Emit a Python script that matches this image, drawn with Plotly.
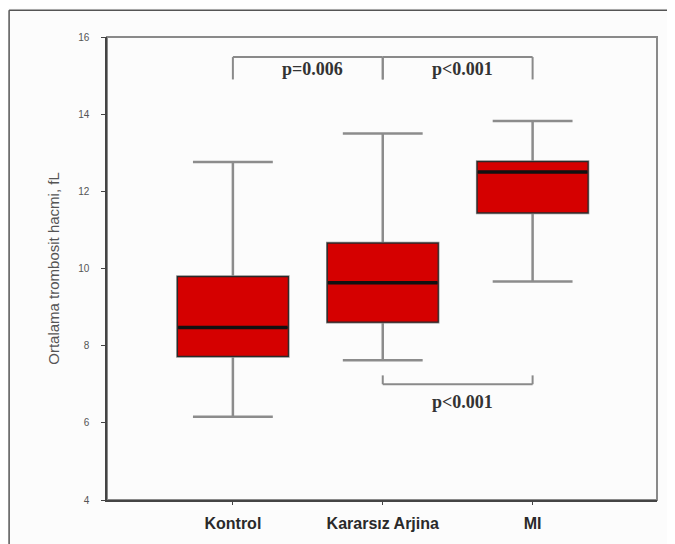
import plotly.graph_objects as go

categories = ["Kontrol", "Kararsız Arjina", "MI"]
lower_whisker = [6.16, 7.62, 9.66]
q1 = [7.72, 8.61, 11.44]
median = [8.47, 9.63, 12.50]
q3 = [9.79, 10.66, 12.77]
upper_whisker = [12.76, 13.50, 13.82]
y_ticks = [4, 6, 8, 10, 12, 14, 16]

# significance brackets: (from category index, to category index, label)
top_pairs = [(0, 1, "p=0.006"), (1, 2, "p<0.001")]
bottom_pairs = [(1, 2, "p<0.001")]

RED = "#d50000"
fig = go.Figure()

fig.add_trace(go.Box(
    x=categories, q1=q1, median=median, q3=q3,
    lowerfence=lower_whisker, upperfence=upper_whisker,
    fillcolor=RED, line=dict(color="#8c8c8c", width=2.5),
    width=0.74, whiskerwidth=0.72, boxpoints=False, hoverinfo="skip",
    showlegend=False))
fig.add_trace(go.Box(
    x=categories, q1=q1, median=median, q3=q3,
    lowerfence=q1, upperfence=q3,
    fillcolor=RED, line=dict(color="#2a2a2a", width=1.2),
    width=0.74, whiskerwidth=0, boxpoints=False, hoverinfo="skip",
    showlegend=False))

shapes = []
for i, m in enumerate(median):
    shapes.append(dict(type="line", xref="x", yref="y", x0=i - 0.365, x1=i + 0.365,
                       y0=m, y1=m, line=dict(color="#111111", width=3.5)))

GRAY = "#8a8a8a"
top_y, top_drop = 15.48, 14.9
bot_y, bot_rise = 7.0, 7.23
PFONT = dict(family="Liberation Serif", size=18, color="#333333")
ann = []
for a, b, lab in top_pairs:
    shapes.append(dict(type="line", xref="x", yref="y", x0=a, x1=b, y0=top_y, y1=top_y,
                       line=dict(color=GRAY, width=2)))
    for xx in (a, b):
        shapes.append(dict(type="line", xref="x", yref="y", x0=xx, x1=xx, y0=top_y, y1=top_drop,
                           line=dict(color=GRAY, width=2)))
    ann.append(dict(x=(a + b) / 2 + 0.03, y=15.16, xref="x", yref="y", text="<b>" + lab + "</b>",
                    showarrow=False, font=PFONT))
for a, b, lab in bottom_pairs:
    shapes.append(dict(type="line", xref="x", yref="y", x0=a, x1=b, y0=bot_y, y1=bot_y,
                       line=dict(color=GRAY, width=2)))
    for xx in (a, b):
        shapes.append(dict(type="line", xref="x", yref="y", x0=xx, x1=xx, y0=bot_y, y1=bot_rise,
                           line=dict(color=GRAY, width=2)))
    ann.append(dict(x=(a + b) / 2 + 0.03, y=6.55, xref="x", yref="y", text="<b>" + lab + "</b>",
                    showarrow=False, font=PFONT))

# plot frame (top/right) and outer frame (top/left)
shapes.append(dict(type="rect", xref="paper", yref="paper", x0=0, x1=1, y0=0, y1=1,
                   line=dict(color="#8a8a8a", width=2), layer="below"))
shapes.append(dict(type="line", xref="paper", yref="paper", x0=-0.178, x1=1.05, y0=1.058, y1=1.058,
                   line=dict(color="#555555", width=1.5)))
shapes.append(dict(type="line", xref="paper", yref="paper", x0=-0.178, x1=-0.178, y0=1.058, y1=-0.2,
                   line=dict(color="#555555", width=1.5)))

fig.update_layout(
    width=667, height=536,
    margin=dict(l=99, r=18, t=29, b=38),
    paper_bgcolor="#fcfcfc", plot_bgcolor="#fcfcfc",
    boxmode="overlay",
    shapes=shapes, annotations=ann,
    font=dict(family="Liberation Sans"),
)
fig.update_xaxes(
    type="category", range=[-0.84, 2.83],
    showgrid=False, zeroline=False,
    showline=True, linecolor="#444444", linewidth=1.5,
    ticks="outside", ticklen=3, tickcolor="#444444",
    ticklabelstandoff=5,
    tickfont=dict(family="Liberation Sans", size=16, color="#2a2a2a"),
    tickprefix="<b>", ticksuffix="</b>",
)
fig.update_yaxes(
    range=[4, 16], tickvals=y_ticks,
    showgrid=False, zeroline=False,
    showline=True, linecolor="#444444", linewidth=1.5,
    ticks="outside", ticklen=4, tickcolor="#444444",
    ticklabelstandoff=10,
    tickfont=dict(family="Liberation Sans", size=10, color="#555555"),
    title=dict(text="Ortalama trombosit hacmi, fL", standoff=15,
               font=dict(family="Liberation Sans", size=15, color="#555555")),
)

fig.write_html("out.html")
